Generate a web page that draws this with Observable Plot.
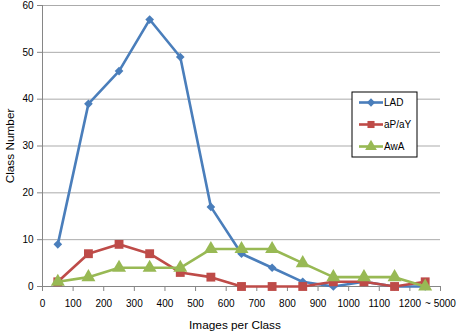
<!DOCTYPE html>
<html>
<head>
<meta charset="utf-8">
<script src="https://cdn.jsdelivr.net/npm/d3@7"></script>
<script src="https://cdn.jsdelivr.net/npm/@observablehq/plot@0.6"></script>
<style>
  html, body { margin: 0; padding: 0; background: #fff; }
  #chart { position: relative; width: 457px; height: 334px; }
</style>
</head>
<body>
<div id="chart"></div>
<script>
// Category centers (images per class bins) and their boundary tick labels
const binCenters = [50, 150, 250, 350, 450, 550, 650, 750, 850, 950, 1050, 1150, 1250];
const tickValues = [0, 100, 200, 300, 400, 500, 600, 700, 800, 900, 1000, 1100, 1200, 1300];
const tickLabels = ["0", "100", "200", "300", "400", "500", "600", "700", "800", "900", "1000", "1100", "1200", "~ 5000"];
const yTicks = [0, 10, 20, 30, 40, 50, 60];

const seriesNames = ["LAD", "aP/aY", "AwA"];
const ladValues  = [9, 39, 46, 57, 49, 17, 7, 4, 1, 0, 1, 0, 0];
const apayValues = [1, 7, 9, 7, 3, 2, 0, 0, 0, 1, 1, 0, 1];
const awaValues  = [1, 2, 4, 4, 4, 8, 8, 8, 5, 2, 2, 2, 0];

const colors = {"LAD": "#4A7EBB", "aP/aY": "#BE4B48", "AwA": "#98B954"};
const symbols = {"LAD": "diamond2", "aP/aY": "square", "AwA": "triangle"};
const radii = {"LAD": 3.9, "aP/aY": 5, "AwA": 5.2};

const allValues = [ladValues, apayValues, awaValues];
const rows = [];
seriesNames.forEach((s, k) => binCenters.forEach((x, i) => rows.push({series: s, x, y: allValues[k][i]})));

const font = "'Liberation Sans', Arial, sans-serif";
const marks = [
  Plot.gridY(yTicks, {stroke: "#ababab", strokeOpacity: 1, strokeWidth: 1}),
  Plot.axisY(yTicks, {tickSize: 5, tickPadding: 4, stroke: "#868686", label: null, fontSize: 10}),
  Plot.axisX(tickValues, {tickSize: 5, tickPadding: 8, stroke: "#868686", label: null, fontSize: 10,
    tickFormat: d => tickLabels[Math.round(d / 100)]}),
  Plot.ruleX([0], {stroke: "#868686"}),
  Plot.ruleY([0], {stroke: "#868686"})
];
seriesNames.forEach(s => {
  const d = rows.filter(r => r.series === s);
  marks.push(Plot.line(d, {x: "x", y: "y", stroke: colors[s], strokeWidth: 2.6}));
  marks.push(Plot.dot(d, {x: "x", y: "y", symbol: () => symbols[s], fill: colors[s], r: radii[s], stroke: "none"}));
});

const chart = Plot.plot({
  width: 457,
  height: 334,
  marginLeft: 42,
  marginRight: 17,
  marginTop: 5,
  marginBottom: 48,
  style: {fontFamily: font, fontSize: "10px", color: "#000", background: "#fff"},
  x: {domain: [0, 1300], label: null},
  y: {domain: [0, 60], label: null},
  symbol: {type: "identity"},
  marks
});

const svg = d3.select(chart);
// axis titles
svg.append("text").attr("x", 235).attr("y", 329).attr("text-anchor", "middle")
  .style("font-family", font).style("font-size", "11.8px").attr("fill", "#000").text("Images per Class");
svg.append("text").attr("transform", "translate(10,146) rotate(-90)").attr("text-anchor", "middle")
  .attr("dy", "0.35em")
  .style("font-family", font).style("font-size", "11.8px").attr("fill", "#000").text("Class Number");

// legend
const lg = svg.append("g").attr("transform", "translate(352,92)");
lg.append("rect").attr("x", 0).attr("y", 0).attr("width", 65).attr("height", 65)
  .attr("fill", "#fff").attr("stroke", "#000").attr("stroke-width", 1);
const d3sym = {"LAD": d3.symbolDiamond2, "aP/aY": d3.symbolSquare, "AwA": d3.symbolTriangle};
const d3size = {"LAD": 44, "aP/aY": 50, "AwA": 60};
seriesNames.forEach((s, i) => {
  const y = 10.5 + i * 22;
  lg.append("line").attr("x1", 7).attr("x2", 31).attr("y1", y).attr("y2", y)
    .attr("stroke", colors[s]).attr("stroke-width", 2.6);
  lg.append("path").attr("transform", `translate(19,${y})`)
    .attr("d", d3.symbol(d3sym[s], d3size[s])()).attr("fill", colors[s]);
  lg.append("text").attr("x", 32).attr("y", y).attr("dy", "0.35em").attr("text-anchor", "start")
    .style("font-family", font).style("font-size", "10px").attr("fill", "#000").text(s);
});

document.getElementById("chart").appendChild(chart);
</script>
</body>
</html>
